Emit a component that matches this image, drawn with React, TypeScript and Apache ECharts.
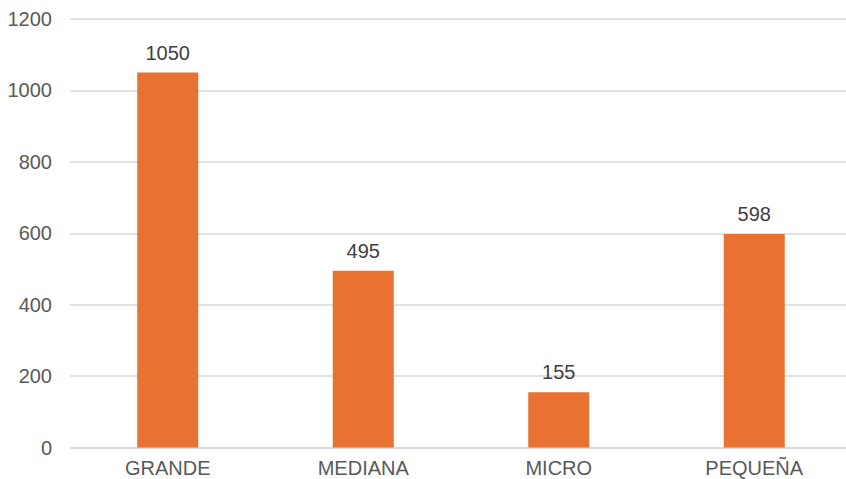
import React, { useEffect, useRef } from "react";
import * as echarts from "echarts";

const categories = ["GRANDE", "MEDIANA", "MICRO", "PEQUEÑA"];
const values = [1050, 495, 155, 598];

export default function App() {
  const ref = useRef<HTMLDivElement>(null);
  useEffect(() => {
    const chart = echarts.init(ref.current!, null, { renderer: "svg" });
    chart.setOption({
      animation: false,
      grid: { left: 70, width: 782, top: 19, bottom: 31.5, outerBoundsMode: "none", containLabel: false },
      xAxis: {
        type: "category",
        data: categories,
        axisTick: { show: false },
        axisLine: { lineStyle: { color: "#D9D9D9", width: 1.5 } },
        axisLabel: {
          color: "#595959",
          fontFamily: "Liberation Sans, Arial",
          fontSize: 20,
          lineHeight: 16,
          margin: 12,
        },
      },
      yAxis: {
        type: "value",
        min: 0,
        max: 1200,
        interval: 200,
        axisLine: { show: false },
        axisTick: { show: false },
        splitLine: { lineStyle: { color: "#D9D9D9", width: 1.5 } },
        axisLabel: {
          color: "#595959",
          fontFamily: "Liberation Sans, Arial",
          fontSize: 20,
          margin: 18,
          formatter: (v: number) => String(v),
        },
      },
      series: [
        {
          type: "bar",
          data: values,
          barWidth: 61,
          itemStyle: { color: "#E97132" },
          label: {
            show: true,
            position: "top",
            distance: 10,
            color: "#404040",
            fontFamily: "Liberation Sans, Arial",
            fontSize: 20,
          },
        },
      ],
    });
    return () => chart.dispose();
  }, []);
  return (
    <div
      ref={ref}
      style={{ position: "fixed", left: 0, top: 0, width: 846, height: 479, background: "#fff" }}
    />
  );
}
